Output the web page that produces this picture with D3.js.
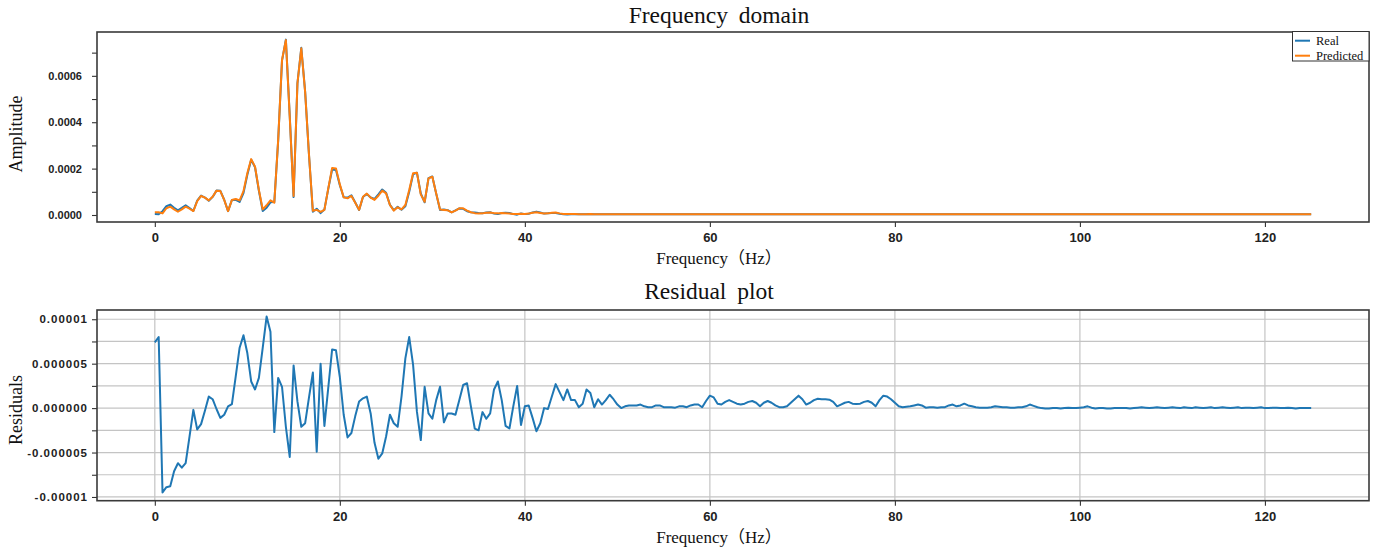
<!DOCTYPE html>
<html>
<head>
<meta charset="utf-8">
<script src="https://cdn.jsdelivr.net/npm/d3@7"></script>
<style>
  body { margin: 0; background: #fff; }
  svg { display: block; }
  .tick text { font-family: "Liberation Sans", Arial, sans-serif; font-weight: bold; fill: #222; }
  .x-axis .tick text { font-size: 13px; }
  .y-axis-amp .tick text { font-size: 11px; }
  .y-axis-res .tick text { font-size: 11.5px; letter-spacing: 1px; }
  .title { font-family: "Liberation Serif", "Noto Sans CJK SC", serif; font-size: 23.5px; fill: #111; word-spacing: 5px; }
  .axis-label { font-family: "Liberation Serif", "Noto Sans CJK SC", serif; font-size: 17px; fill: #111; }
  .axis-label.y-label { font-size: 18px; }
  .legend-text { font-family: "Liberation Serif", serif; font-size: 12.5px; fill: #111; }
</style>
</head>
<body>
<svg id="chart" width="1386" height="552"></svg>
<script>
// ---- data -------------------------------------------------------------
// FFT bins from 0 to 125 Hz (301 bins)
const FREQ_MAX = 125;
const BIN_COUNT = 301;
const frequencies = d3.range(BIN_COUNT).map(i => i * FREQ_MAX / (BIN_COUNT - 1));

// Amplitude spectrum, bins 0 .. 110 (0 – 45.8 Hz)
const predictedHead = [
  1.15e-5, 1.15e-5, 0.7e-5, 2.9e-5, 3.6e-5, 2.4e-5, 1.4e-5, 2.4e-5, 3.6e-5, 2.7e-5,
  1.7e-5, 6.0e-5, 8.2e-5, 7.5e-5, 6.3e-5, 7.9e-5, 1.05e-4, 1.03e-4, 6.5e-5, 1.7e-5,
  6.5e-5, 6.9e-5, 6.3e-5, 1.03e-4, 1.80e-4, 2.41e-4, 2.08e-4, 1.08e-4, 2.4e-5, 4.2e-5,
  6.3e-5, 5.3e-5, 3.23e-4, 6.68e-4, 7.54e-4, 4.24e-4, 8.2e-5, 5.68e-4, 7.19e-4, 5.3e-4,
  2.6e-4, 1.8e-5, 2.2e-5, 1.3e-5, 2.2e-5, 1.15e-4, 2.03e-4, 2.0e-4, 1.32e-4, 7.6e-5,
  7.2e-5, 8.2e-5, 5.3e-5, 2.2e-5, 7.9e-5, 9.2e-5, 7.5e-5, 6.5e-5, 8.3e-5, 1.05e-4,
  9.3e-5, 4.3e-5, 1.9e-5, 3.3e-5, 2.4e-5, 4.3e-5, 1.08e-4, 1.80e-4, 1.82e-4, 8.9e-5,
  5.7e-5, 1.58e-4, 1.65e-4, 9.3e-5, 2.4e-5, 2.2e-5, 2.0e-5, 1.1e-5, 1.9e-5, 2.9e-5,
  2.9e-5, 1.9e-5, 1.2e-5, 8e-6, 6e-6, 7e-6, 1.0e-5, 1.1e-5, 8e-6, 7e-6,
  9e-6, 8e-6, 6e-6, 4e-6, 4e-6, 5e-6, 4e-6, 6e-6, 1.0e-5, 1.2e-5,
  9e-6, 6e-6, 7e-6, 1.0e-5, 1.1e-5, 7e-6, 4e-6, 4e-6, 4e-6, 4e-6, 3e-6
];
const realHead = [
  4.1e-6, 3.5e-6, 1.65e-5, 3.79e-5, 4.48e-5, 3.11e-5, 2.02e-5, 3.07e-5, 4.22e-5, 3.02e-5,
  1.72e-5, 6.24e-5, 8.38e-5, 7.53e-5, 6.17e-5, 7.8e-5, 1.051e-4, 1.041e-4, 6.575e-5, 1.68e-5,
  6.455e-5, 6.54e-5, 5.62e-5, 9.48e-5, 1.738e-4, 2.38e-4, 2.059e-4, 1.046e-4, 1.72e-5, 3.17e-5,
  5.44e-5, 5.57e-5, 3.196e-4, 6.656e-4, 7.561e-4, 4.295e-4, 7.72e-5, 5.6725e-4, 7.211e-4, 5.317e-4,
  2.588e-4, 1.4e-5, 2.69e-5, 0.8e-5, 2.4e-5, 1.127e-4, 1.964e-4, 1.935e-4, 1.285e-4, 7.675e-5,
  7.53e-5, 8.48e-5, 5.39e-5, 2.125e-5, 7.79e-5, 9.07e-5, 7.56e-5, 6.89e-5, 8.87e-5, 1.101e-4,
  9.62e-5, 4.375e-5, 2.07e-5, 3.51e-5, 2.27e-5, 3.74e-5, 1.0e-4, 1.751e-4, 1.824e-4, 9.26e-5,
  5.46e-5, 1.586e-4, 1.662e-4, 9.21e-5, 2.16e-5, 2.36e-5, 2.06e-5, 1.16e-5, 1.975e-5, 2.81e-5,
  2.64e-5, 1.62e-5, 1.18e-5, 1.03e-5, 8.5e-6, 7.45e-6, 1.12e-5, 1.16e-5, 5.9e-6, 4.0e-6,
  8.1e-6, 1.0e-5, 8.3e-6, 3.8e-6, 1.5e-6, 6.9e-6, 3.8e-6, 5.7e-6, 1.11e-5, 1.46e-5,
  1.07e-5, 6e-6, 7.1e-6, 8.7e-6, 8.3e-6, 5.2e-6, 3.1e-6, 1.9e-6, 3.1e-6, 3.1e-6, 2.9e-6
];
// Amplitude spectrum, bins 111 .. 300 (flat floor, both series)
const amplitudeTail = [
  3e-6, 3e-6, 4e-6, 3e-6, 3e-6, 3e-6, 3e-6, 3e-6, 3e-6, 3e-6,
  3e-6, 3e-6, 3e-6, 3e-6, 3e-6, 3e-6, 3e-6, 3e-6, 3e-6, 3e-6,
  3e-6, 3e-6, 3e-6, 3e-6, 3e-6, 3e-6, 3e-6, 3e-6, 3e-6, 3e-6,
  3e-6, 3e-6, 3e-6, 3e-6, 3e-6, 3e-6, 3e-6, 3e-6, 3e-6, 3e-6,
  3e-6, 3e-6, 3e-6, 3e-6, 3e-6, 3e-6, 3e-6, 3e-6, 3e-6, 3e-6,
  3e-6, 3e-6, 3e-6, 3e-6, 3e-6, 3e-6, 3e-6, 3e-6, 3e-6, 3e-6,
  3e-6, 3e-6, 3e-6, 3e-6, 3e-6, 3e-6, 3e-6, 3e-6, 3e-6, 3e-6,
  3e-6, 3e-6, 3e-6, 3e-6, 3e-6, 3e-6, 3e-6, 3e-6, 3e-6, 3e-6,
  3e-6, 3e-6, 3e-6, 3e-6, 3e-6, 3e-6, 3e-6, 3e-6, 3e-6, 3e-6,
  3e-6, 3e-6, 3e-6, 3e-6, 3e-6, 3e-6, 3e-6, 3e-6, 3e-6, 3e-6,
  3e-6, 3e-6, 3e-6, 3e-6, 3e-6, 3e-6, 3e-6, 3e-6, 3e-6, 3e-6,
  3e-6, 3e-6, 3e-6, 3e-6, 3e-6, 3e-6, 3e-6, 3e-6, 3e-6, 3e-6,
  3e-6, 3e-6, 3e-6, 3e-6, 3e-6, 3e-6, 3e-6, 3e-6, 3e-6, 3e-6,
  3e-6, 3e-6, 3e-6, 3e-6, 3e-6, 3e-6, 3e-6, 3e-6, 3e-6, 3e-6,
  3e-6, 3e-6, 3e-6, 3e-6, 3e-6, 3e-6, 3e-6, 3e-6, 3e-6, 3e-6,
  3e-6, 3e-6, 3e-6, 3e-6, 3e-6, 3e-6, 3e-6, 3e-6, 3e-6, 3e-6,
  3e-6, 3e-6, 3e-6, 3e-6, 3e-6, 3e-6, 3e-6, 3e-6, 3e-6, 3e-6,
  3e-6, 3e-6, 3e-6, 3e-6, 3e-6, 3e-6, 3e-6, 3e-6, 3e-6, 3e-6,
  3e-6, 3e-6, 3e-6, 3e-6, 3e-6, 3e-6, 3e-6, 3e-6, 3e-6, 3e-6
];
const realAmplitude = realHead.concat(amplitudeTail);
const predictedAmplitude = predictedHead.concat(amplitudeTail);

// Residuals (predicted - real), bins 0 .. 300
const residuals = [
  7.4e-6, 8.0e-6, -9.5e-6, -8.9e-6, -8.8e-6, -7.1e-6, -6.2e-6, -6.7e-6, -6.2e-6, -3.2e-6,
  -0.2e-6, -2.4e-6, -1.8e-6, -0.3e-6, 1.3e-6, 1.0e-6, -0.1e-6, -1.1e-6, -0.75e-6, 0.2e-6,
  0.45e-6, 3.6e-6, 6.8e-6, 8.2e-6, 6.2e-6, 3.0e-6, 2.1e-6, 3.4e-6, 6.8e-6, 10.3e-6,
  8.6e-6, -2.7e-6, 3.4e-6, 2.4e-6, -2.1e-6, -5.5e-6, 4.8e-6, 0.75e-6, -2.1e-6, -1.7e-6,
  1.2e-6, 4.0e-6, -4.9e-6, 5.0e-6, -2.0e-6, 2.3e-6, 6.6e-6, 6.5e-6, 3.5e-6, -0.75e-6,
  -3.3e-6, -2.8e-6, -0.9e-6, 0.75e-6, 1.1e-6, 1.3e-6, -0.6e-6, -3.9e-6, -5.7e-6, -5.1e-6,
  -3.2e-6, -0.75e-6, -1.7e-6, -2.1e-6, 1.3e-6, 5.6e-6, 8.0e-6, 4.9e-6, -0.4e-6, -3.6e-6,
  2.4e-6, -0.6e-6, -1.2e-6, 0.9e-6, 2.4e-6, -1.6e-6, -0.6e-6, -0.6e-6, -0.75e-6, 0.9e-6,
  2.6e-6, 2.8e-6, 0.2e-6, -2.3e-6, -2.5e-6, -0.45e-6, -1.2e-6, -0.6e-6, 2.1e-6, 3.0e-6,
  0.9e-6, -2.0e-6, -2.3e-6, 0.2e-6, 2.5e-6, -1.9e-6, 0.2e-6, 0.3e-6, -1.1e-6, -2.6e-6,
  -1.7e-6, 0, -0.1e-6, 1.3e-6, 2.7e-6, 1.8e-6, 0.9e-6, 2.1e-6, 0.9e-6, 0.9e-6,
  0.1e-6, 0.5e-6, 2.1e-6, 1.7e-6, 0.1e-6, 1.0e-6, 0.4e-6, 0.9e-6, 1.5e-6, 1.0e-6,
  0.4e-6, 0, 0.2e-6, 0.3e-6, 0.3e-6, 0.3e-6, 0.4e-6, 0.2e-6, 0.1e-6, 0.1e-6,
  0.3e-6, 0.3e-6, 0.1e-6, 0.1e-6, 0.1e-6, 0.05e-6, 0.2e-6, 0.2e-6, 0.1e-6, 0.3e-6,
  0.4e-6, 0.4e-6, 0.1e-6, 0.8e-6, 1.4e-6, 1.2e-6, 0.5e-6, 0.4e-6, 0.7e-6, 0.9e-6,
  0.7e-6, 0.5e-6, 0.4e-6, 0.5e-6, 0.7e-6, 0.8e-6, 0.6e-6, 0.2e-6, 0.6e-6, 0.8e-6,
  0.6e-6, 0.3e-6, 0.1e-6, 0.1e-6, 0.2e-6, 0.6e-6, 1.0e-6, 1.4e-6, 1.0e-6, 0.4e-6,
  0.6e-6, 0.9e-6, 1.05e-6, 1.0e-6, 1.0e-6, 0.95e-6, 0.7e-6, 0.2e-6, 0.4e-6, 0.6e-6,
  0.7e-6, 0.5e-6, 0.45e-6, 0.5e-6, 0.7e-6, 0.8e-6, 0.6e-6, 0.2e-6, 0.9e-6, 1.4e-6,
  1.3e-6, 1.0e-6, 0.6e-6, 0.2e-6, 0.1e-6, 0.15e-6, 0.2e-6, 0.3e-6, 0.4e-6, 0.3e-6,
  0.05e-6, 0.1e-6, 0.1e-6, 0.05e-6, 0.1e-6, 0.1e-6, 0.3e-6, 0.4e-6, 0.2e-6, 0.3e-6,
  0.5e-6, 0.3e-6, 0.2e-6, 0.1e-6, 0.05e-6, 0.05e-6, 0.05e-6, 0.1e-6, 0.2e-6, 0.15e-6,
  0.1e-6, 0.1e-6, 0.05e-6, 0.05e-6, 0.1e-6, 0.1e-6, 0.2e-6, 0.4e-6, 0.25e-6, 0.1e-6,
  0, -0.05e-6, -0.05e-6, 0, 0, -0.05e-6, 0, 0.05e-6, 0, 0,
  0.05e-6, 0.1e-6, 0.2e-6, 0.05e-6, -0.05e-6, 0, 0, -0.05e-6, -0.05e-6, 0,
  0, 0, 0, -0.05e-6, 0, 0.05e-6, 0.1e-6, 0.05e-6, 0, 0.05e-6,
  0.1e-6, 0.05e-6, 0, 0.05e-6, 0.1e-6, 0.05e-6, 0, 0.1e-6, 0.05e-6, 0,
  0.1e-6, 0.05e-6, 0, 0.05e-6, 0.1e-6, 0, 0.05e-6, 0.1e-6, 0.05e-6, 0,
  0.05e-6, 0.1e-6, 0, 0.05e-6, 0.05e-6, 0, 0.05e-6, 0.1e-6, 0, 0,
  0.05e-6, 0.05e-6, 0, 0, 0.05e-6, 0, -0.05e-6, 0, 0, 0,
  0
];

// Axis ticks and labels
const xTicks = [0, 20, 40, 60, 80, 100, 120];
const amplitudeTicks = [0, 0.0001, 0.0002, 0.0003, 0.0004, 0.0005, 0.0006, 0.0007];
const amplitudeLabels = ["0.0000", "", "0.0002", "", "0.0004", "", "0.0006", ""];
const residualTicks = [-0.00001, -0.0000075, -0.000005, -0.0000025, 0, 0.0000025, 0.000005, 0.0000075, 0.00001];
const residualLabels = ["-0.00001", "", "-0.000005", "", "0.000000", "", "0.000005", "", "0.00001"];

const seriesNames = ["Real", "Predicted"];
const colors = { Real: "#1f77b4", Predicted: "#ff7f0e", Residual: "#1f77b4" };

// ---- drawing ----------------------------------------------------------
const svg = d3.select("#chart");

function drawPanel(opt) {
  const x = d3.scaleLinear().domain([-6.25, 131.25]).range([opt.left, opt.right]);
  const y = d3.scaleLinear().domain(opt.yDomain).range([opt.bottom, opt.top]);
  const g = svg.append("g");

  if (opt.grid) {
    const grid = g.append("g").attr("stroke", "#c4c4c4").attr("stroke-width", 1.2);
    grid.selectAll("line.v").data(xTicks).join("line")
      .attr("x1", d => x(d)).attr("x2", d => x(d))
      .attr("y1", opt.top).attr("y2", opt.bottom);
    grid.selectAll("line.h").data(opt.yTicks).join("line")
      .attr("x1", opt.left).attr("x2", opt.right)
      .attr("y1", d => y(d)).attr("y2", d => y(d));
  }

  const line = d3.line()
    .x((d, i) => x(frequencies[i]))
    .y(d => y(d));

  opt.series.forEach(s => {
    g.append("path")
      .datum(s.values)
      .attr("fill", "none")
      .attr("stroke", s.color)
      .attr("stroke-width", 2)
      .attr("stroke-linejoin", "round")
      .attr("d", line);
  });

  // x axis
  const xAxis = g.append("g")
    .attr("class", "x-axis")
    .attr("transform", `translate(0,${opt.bottom})`)
    .call(d3.axisBottom(x).tickValues(xTicks).tickSize(5).tickPadding(6).tickFormat(d3.format("d")));
  // y axis
  const yAxis = g.append("g")
    .attr("class", opt.yAxisClass)
    .attr("transform", `translate(${opt.left},0)`)
    .call(d3.axisLeft(y).tickValues(opt.yTicks).tickSize(5).tickPadding(opt.yPadding)
      .tickFormat((d, i) => opt.yLabels[i]));
  [xAxis, yAxis].forEach(a => {
    a.select(".domain").remove();
    a.selectAll(".tick line").attr("stroke", "#333").attr("stroke-width", 1.1);
  });

  // frame
  g.append("rect")
    .attr("x", opt.left).attr("y", opt.top)
    .attr("width", opt.right - opt.left).attr("height", opt.bottom - opt.top)
    .attr("fill", "none").attr("stroke", "#3a3a3a").attr("stroke-width", 1.6);

  // titles
  svg.append("text").attr("class", "title")
    .attr("x", opt.titleX).attr("y", opt.titleY)
    .attr("text-anchor", "middle").text(opt.title);
  svg.append("text").attr("class", "axis-label")
    .attr("x", 719).attr("y", opt.xLabelY)
    .attr("text-anchor", "middle").text("Frequency（Hz）");
  svg.append("text").attr("class", "axis-label y-label")
    .attr("transform", `translate(22,${opt.yLabelCenter}) rotate(-90)`)
    .attr("text-anchor", "middle").text(opt.yLabel);

  return { x, y, g };
}

// Frequency-domain panel
drawPanel({
  left: 97, right: 1369, top: 32, bottom: 222,
  yDomain: [-0.0000302, 0.000789],
  yTicks: amplitudeTicks, yLabels: amplitudeLabels,
  yAxisClass: "y-axis-amp", yPadding: 10,
  grid: false,
  series: [
    { values: realAmplitude, color: colors.Real },
    { values: predictedAmplitude, color: colors.Predicted }
  ],
  title: "Frequency domain", titleX: 719, titleY: 23,
  xLabelY: 264, yLabel: "Amplitude", yLabelCenter: 134
});

// Legend
const legend = svg.append("g");
legend.append("rect")
  .attr("x", 1292.5).attr("y", 31.5).attr("width", 76.5).attr("height", 29.5)
  .attr("fill", "#fff").attr("stroke", "#333").attr("stroke-width", 1);
seriesNames.forEach((name, i) => {
  const cy = 40.7 + i * 15;
  legend.append("line")
    .attr("x1", 1295).attr("x2", 1310).attr("y1", cy).attr("y2", cy)
    .attr("stroke", colors[name]).attr("stroke-width", 2);
  legend.append("text").attr("class", "legend-text")
    .attr("x", 1316).attr("y", cy + 4.3).text(name);
});

// Residual panel
drawPanel({
  left: 97, right: 1369, top: 310, bottom: 500.7,
  yDomain: [-0.00001042, 0.00001104],
  yTicks: residualTicks, yLabels: residualLabels,
  yAxisClass: "y-axis-res", yPadding: 4,
  grid: true,
  series: [{ values: residuals, color: colors.Residual }],
  title: "Residual plot", titleX: 709, titleY: 299,
  xLabelY: 543, yLabel: "Residuals", yLabelCenter: 410
});
</script>
</body>
</html>
